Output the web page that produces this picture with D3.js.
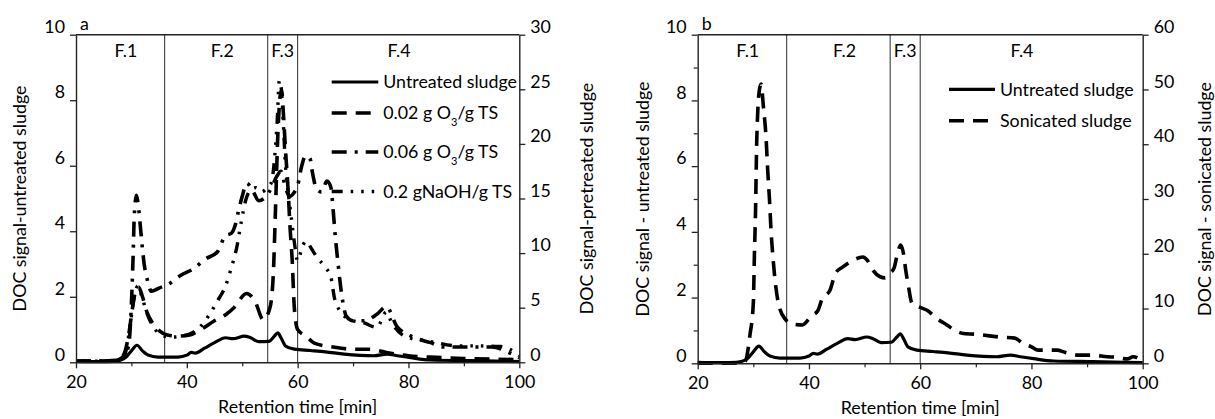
<!DOCTYPE html>
<html>
<head>
<meta charset="utf-8">
<script src="https://cdn.jsdelivr.net/npm/d3@7"></script>
<style>
  body { margin: 0; background: #fff; }
  svg text { font-family: Lato, "Liberation Sans", sans-serif; fill: #000; }
</style>
</head>
<body>
<svg id="chart" width="1215" height="419"></svg>
<script>
// ---- shared axis / fraction definitions ----
const retentionTicks = [20, 40, 60, 80, 100];
const retentionMinorTicks = [30, 50, 70, 90];
const fractionBounds = [36, 54.6, 60];
const fractionLabels = ["F.1", "F.2", "F.3", "F.4"];
const fractionLabelAt = [29, 46.4, 57.3, 78.3];

// ---- untreated sludge (left axis, both panels) ----
const untreatedTime = [20, 24, 27, 28, 29, 30, 31, 32, 33, 34.8, 38.4, 40, 40.8, 41.5, 43.2, 45, 47, 48.3, 50.4, 51.5, 53, 54.8, 55.8, 56.4, 57, 57.8, 59.4, 62.3, 65, 68.4, 73.8, 76.2, 78, 80.4, 84, 91, 100];
const untreatedDOC = [0.03, 0.02, 0.03, 0.06, 0.15, 0.35, 0.52, 0.35, 0.22, 0.16, 0.16, 0.22, 0.3, 0.28, 0.43, 0.6, 0.75, 0.72, 0.8, 0.75, 0.63, 0.64, 0.8, 0.9, 0.75, 0.5, 0.4, 0.36, 0.32, 0.25, 0.2, 0.25, 0.2, 0.14, 0.07, 0.05, 0.02];

// ---- panel a: pretreated sludge (right axis 0-30) ----
const ozone002Time = [20, 27, 28.5, 29.5, 30.2, 30.8, 31.3, 32, 32.8, 33.8, 35, 36.5, 38.5, 40.5, 42.5, 45, 47, 48.5, 50.8, 52.3, 53.8, 55, 55.6, 56, 56.4, 56.8, 57.1, 57.4, 57.8, 58.3, 58.6, 59, 59.4, 60, 61.5, 63, 66.4, 70, 73, 76, 80, 85, 90, 100];
const ozone002DOC = [0.1, 0.15, 0.6, 2.5, 5.0, 6.6, 6.9, 6.0, 4.6, 3.6, 2.9, 2.5, 2.4, 2.5, 3.0, 3.8, 4.35, 5.0, 6.3, 5.6, 3.9, 5.0, 8.0, 14, 20.5, 24.2, 24.9, 23, 19.5, 15.6, 12.6, 9.5, 5, 3.0, 2.4, 1.75, 1.4, 1.2, 1.2, 0.9, 0.6, 0.45, 0.35, 0.25];

const ozone006Time = [20, 27, 28.5, 29.5, 30.0, 30.3, 30.5, 30.9, 31.3, 31.8, 32.3, 32.9, 33.6, 35, 36.5, 39, 41, 43.5, 45.5, 47, 48, 48.7, 49.3, 50, 50.8, 51.8, 53, 54.3, 55.3, 56.2, 57.0, 57.8, 58.6, 59.3, 60, 60.7, 61.4, 62.2, 62.7, 63.3, 64.3, 65.3, 66.0, 66.4, 66.8, 67.3, 68, 68.8, 70, 72, 74.3, 76, 77.9, 80.9, 84, 86.3, 90.5, 95, 98.3, 100];
const ozone006DOC = [0.1, 0.15, 0.5, 1.5, 5.4, 9.6, 13.2, 15.3, 14.1, 11.4, 9, 7.5, 6.5, 6.8, 7.1, 8.0, 8.5, 9.5, 10.1, 11.6, 11.8, 12.5, 13.8, 15.2, 16.4, 15.8, 14.8, 15.2, 16.0, 17.0, 17.5, 16.0, 15.2, 15.5, 16.2, 17.9, 18.9, 18.7, 17.3, 16.0, 15.6, 16.6, 16.0, 14.0, 11.5, 9.0, 6.0, 4.2, 3.8, 3.8, 4.4, 5.1, 3.3, 2.3, 1.8, 1.4, 1.4, 1.4, 0.85, 0.4];

const naohTime = [20, 28, 29, 29.8, 30.5, 31.2, 31.9, 32.8, 34, 35.5, 37, 39, 41, 42.5, 44, 45.5, 47, 48, 49, 49.8, 50.6, 51.5, 52.5, 53.5, 54.5, 55.3, 55.8, 56.3, 56.7, 57.0, 57.4, 57.8, 58.3, 58.8, 59.4, 60, 60.8, 61.5, 62.5, 63.5, 65, 66, 66.6, 67.5, 69.5, 72, 74.3, 76, 77, 79.7, 84, 89, 93, 96.6, 99.5, 100];
const naohDOC = [0.1, 0.1, 1.0, 3.5, 6.0, 7.0, 6.0, 4.5, 3.2, 2.5, 2.3, 2.4, 2.7, 3.3, 4.3, 5.6, 7.0, 8.6, 10.5, 12.8, 14.8, 15.8, 16.0, 15.6, 16.0, 16.5, 18.5, 22, 25.8, 25.3, 22, 18, 15.5, 13.5, 11, 9.3, 10.5, 11.1, 10.4, 9.6, 8.7, 7.8, 6.0, 4.8, 3.9, 3.6, 3.2, 4.6, 3.6, 2.3, 1.9, 1.5, 1.5, 1.45, 0.8, 0.6];

// ---- panel b: sonicated sludge (right axis 0-60) ----
const sonicatedTime = [20, 27, 28.5, 29.4, 30.0, 30.2, 30.4, 30.6, 30.8, 31.1, 31.4, 31.8, 32.3, 32.6, 32.9, 33.2, 33.6, 34.5, 35.7, 37, 38.8, 40.5, 41.6, 42.3, 43.8, 44.8, 46.1, 47.9, 49.7, 50.5, 51.5, 52.8, 53.7, 54.6, 55.3, 55.9, 56.5, 57.0, 57.4, 57.9, 58.5, 60, 61.4, 62.7, 64.8, 66.3, 67.5, 70, 74.3, 77, 78.5, 80, 81.2, 84.6, 86, 88.2, 91.1, 93.6, 95.4, 97.2, 98.3, 100];
const sonicatedDOC = [0, 0, 0.3, 5.2, 11, 20, 28, 40, 46, 50, 51, 47, 41, 35, 30, 24, 18.5, 11, 8.1, 7.2, 7.0, 8.7, 9.6, 11.6, 13.4, 16.5, 17.6, 18.8, 19.4, 18.8, 17, 15.8, 15.6, 16.5, 17.4, 20, 21.6, 20, 17, 14, 11, 10.2, 9.6, 8.4, 7.0, 6.0, 5.5, 5.3, 4.8, 4.6, 3.6, 3.0, 2.4, 2.4, 2.0, 1.5, 1.5, 1.2, 1.1, 0.8, 1.2, 0.3];

// ---- axis tick values ----
const leftTicksDOC = [0, 2, 4, 6, 8, 10];
const leftMinorDOC = [1, 3, 5, 7, 9];
const rightTicksA = [0, 5, 10, 15, 20, 25, 30];
const rightTicksB = [0, 10, 20, 30, 40, 50, 60];

// ---- line styles ----
const STYLE = {
  solid:      { dash: null,                           width: 3.2 },
  dash:       { dash: "15,9",                         width: 3.6 },
  dashDot:    { dash: "15,8,3,8",                     width: 3.6 },
  dashDotDot: { dash: "11,8,2.5,8,2.5,8,2.5,8",       width: 3.4 }
};

const FS = 17.8;
const svg = d3.select("#chart");
const zip = (t, v) => t.map((d, i) => [d, v[i]]);

function drawPanel(p) {
  const x = d3.scaleLinear().domain([20, 100]).range([p.left, p.right]);
  const yL = d3.scaleLinear().domain([0, 10]).range([p.bottom, p.top]);
  const yR = d3.scaleLinear().domain([0, p.rightMax]).range([p.bottom, p.top]);
  const g = svg.append("g");

  // fraction separators
  g.append("g").selectAll("line").data(fractionBounds).join("line")
    .attr("x1", d => x(d)).attr("x2", d => x(d))
    .attr("y1", p.top).attr("y2", p.bottom)
    .attr("stroke", "#2b2b2b").attr("stroke-width", 1);

  g.append("g").selectAll("text").data(fractionLabels).join("text")
    .attr("x", (d, i) => x(fractionLabelAt[i]))
    .attr("y", p.top + 16)
    .attr("dy", "0.35em")
    .attr("text-anchor", "middle")
    .style("font-size", FS + "px")
    .text(d => d);

  // curves
  const line = (ys) => d3.line().x(d => x(d[0])).y(d => ys(d[1])).curve(d3.curveMonotoneX);
  p.series.forEach(s => {
    const st = STYLE[s.style];
    g.append("path")
      .datum(zip(s.time, s.values))
      .attr("fill", "none")
      .attr("stroke", "#000")
      .attr("stroke-width", st.width)
      .attr("stroke-dasharray", st.dash)
      .attr("stroke-linejoin", "round")
      .attr("d", line(s.axis === "left" ? yL : yR));
  });

  // axes
  const axisStyle = sel => {
    sel.select(".domain").attr("stroke", "#222").attr("stroke-width", 1.4);
    sel.selectAll(".tick line").attr("stroke", "#222").attr("stroke-width", 1.3);
    sel.selectAll("text").style("font-size", FS + "px");
    sel.attr("font-family", null).attr("font-size", null);
  };

  const xAxis = g.append("g").attr("transform", `translate(0,${p.bottom})`)
    .call(d3.axisBottom(x).tickValues(retentionTicks).tickSize(6).tickSizeOuter(0));
  axisStyle(xAxis);
  xAxis.selectAll("text").attr("y", 13);
  g.append("g").attr("transform", `translate(0,${p.bottom})`)
    .call(d3.axisBottom(x).tickValues(retentionMinorTicks).tickSize(4).tickSizeOuter(0).tickFormat(""))
    .call(s => { s.select(".domain").remove(); s.selectAll("line").attr("stroke", "#222").attr("stroke-width", 1.2); });

  const lAxis = g.append("g").attr("transform", `translate(${p.left},0)`)
    .call(d3.axisLeft(yL).tickValues(leftTicksDOC).tickSize(6).tickSizeOuter(0));
  axisStyle(lAxis);
  lAxis.selectAll("text").attr("x", -11).attr("y", -8);
  if (p.leftMinor) {
    g.append("g").attr("transform", `translate(${p.left},0)`)
      .call(d3.axisLeft(yL).tickValues(leftMinorDOC).tickSize(4).tickSizeOuter(0).tickFormat(""))
      .call(s => { s.select(".domain").remove(); s.selectAll("line").attr("stroke", "#222").attr("stroke-width", 1.2); });
  }

  const rAxis = g.append("g").attr("transform", `translate(${p.right},0)`)
    .call(d3.axisRight(yR).tickValues(p.rightTicks).tickSize(6).tickSizeOuter(0));
  axisStyle(rAxis);
  rAxis.selectAll("text").attr("x", 11).attr("y", -8);

  // top frame
  g.append("line").attr("x1", p.left).attr("x2", p.right)
    .attr("y1", p.top).attr("y2", p.top)
    .attr("stroke", "#222").attr("stroke-width", 1.4);

  // panel letter
  g.append("text").attr("x", p.left + 4).attr("y", p.top - 11).attr("dy", "0.35em")
    .style("font-size", FS + "px").text(p.letter);

  // axis titles
  g.append("text")
    .attr("transform", `translate(${(p.left + p.right) / 2},${p.bottom + 51})`)
    .attr("text-anchor", "middle").style("font-size", FS + "px")
    .text("Retention time [min]");
  g.append("text")
    .attr("transform", `translate(${p.leftTitleX},${(p.top + p.bottom) / 2}) rotate(-90)`)
    .attr("text-anchor", "middle").attr("dy", "0.35em").style("font-size", FS + "px")
    .text(p.leftTitle);
  g.append("text")
    .attr("transform", `translate(${p.rightTitleX},${(p.top + p.bottom) / 2}) rotate(-90)`)
    .attr("text-anchor", "middle").attr("dy", "0.35em").style("font-size", FS + "px")
    .text(p.rightTitle);

  // legend
  const lg = g.append("g");
  p.series.forEach((s, i) => {
    const ly = p.legend.y[i];
    const st = STYLE[s.style];
    lg.append("line")
      .attr("x1", p.legend.x0).attr("x2", p.legend.x1)
      .attr("y1", ly).attr("y2", ly)
      .attr("stroke", "#000").attr("stroke-width", st.width)
      .attr("stroke-dasharray", st.dash);
    const t = lg.append("text").attr("x", p.legend.x1 + 5).attr("y", ly).attr("dy", "0.35em")
      .style("font-size", FS + "px");
    s.label.forEach(part => {
      const ts = t.append("tspan").text(part.text);
      if (part.sub) ts.attr("baseline-shift", "sub").style("font-size", (FS * 0.62) + "px");
    });
  });
}

drawPanel({
  left: 76, right: 519.3, top: 34.7, bottom: 362.3,
  rightMax: 30, rightTicks: rightTicksA, leftMinor: false,
  letter: "a",
  leftTitle: "DOC signal-untreated sludge", leftTitleX: 20,
  rightTitle: "DOC signal-pretreated sludge", rightTitleX: 587,
  legend: { x0: 331.7, x1: 378.3, y: [82, 113, 152, 191.5] },
  series: [
    { time: untreatedTime, values: untreatedDOC, axis: "left", style: "solid",
      label: [{ text: "Untreated sludge" }] },
    { time: ozone002Time, values: ozone002DOC, axis: "right", style: "dash",
      label: [{ text: "0.02 g O" }, { text: "3", sub: true }, { text: "/g TS" }] },
    { time: ozone006Time, values: ozone006DOC, axis: "right", style: "dashDot",
      label: [{ text: "0.06 g O" }, { text: "3", sub: true }, { text: "/g TS" }] },
    { time: naohTime, values: naohDOC, axis: "right", style: "dashDotDot",
      label: [{ text: "0.2 gNaOH/g TS" }] }
  ]
});

drawPanel({
  left: 697.7, right: 1142.7, top: 34.7, bottom: 363.3,
  rightMax: 60, rightTicks: rightTicksB, leftMinor: true,
  letter: "b",
  leftTitle: "DOC signal - untreated sludge", leftTitleX: 643,
  rightTitle: "DOC signal - sonicated sludge", rightTitleX: 1205,
  legend: { x0: 949, x1: 995, y: [89.3, 120.7] },
  series: [
    { time: untreatedTime, values: untreatedDOC, axis: "left", style: "solid",
      label: [{ text: "Untreated sludge" }] },
    { time: sonicatedTime, values: sonicatedDOC, axis: "right", style: "dash",
      label: [{ text: "Sonicated sludge" }] }
  ]
});
</script>
</body>
</html>
